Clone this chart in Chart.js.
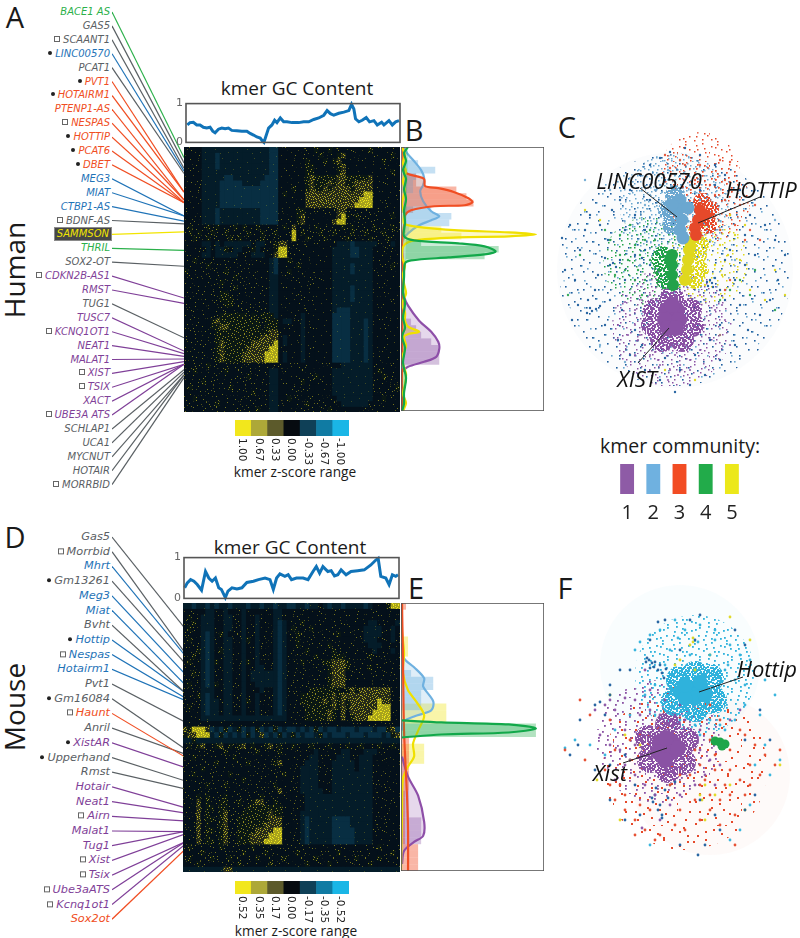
<!DOCTYPE html>
<html><head><meta charset="utf-8">
<style>
html,body{margin:0;padding:0;background:#fff;width:800px;height:938px;overflow:hidden}
#root{position:relative;width:800px;height:938px;overflow:hidden}
canvas{position:absolute;display:block}
.t{position:absolute;white-space:nowrap;line-height:1}
.lab{position:absolute;white-space:nowrap;line-height:1;font-family:"DejaVu Sans";font-style:italic;transform:translateY(-50%)}
.dot{display:inline-block;width:4px;height:4px;border-radius:50%;background:#222;margin-right:3px;vertical-align:2px}
.sq{display:inline-block;width:4px;height:4px;border:1px solid #666;background:#fff;margin-right:3px;vertical-align:1px}
</style>
<script src="https://cdn.jsdelivr.net/npm/chart.js@4"></script>
</head><body><div id="root"></div>
<script>
/* ---------- community colours ---------- */
const GREEN='#2bb04a',GREY='#5a6064',BLUE='#1f73b7',RED='#f04e23',PURPLE='#7f3f98',YELLOW='#f2e500';
const colourOf={g:GREEN,k:GREY,b:BLUE,r:RED,p:PURPLE,y:YELLOW};

/* ---------- panel A / D labels ---------- */
const humanLabels=['BACE1 AS','GAS5','SCAANT1','LINC00570','PCAT1','PVT1','HOTAIRM1','PTENP1-AS','NESPAS','HOTTIP','PCAT6','DBET','MEG3','MIAT','CTBP1-AS','BDNF-AS','SAMMSON','THRIL','SOX2-OT','CDKN2B-AS1','RMST','TUG1','TUSC7','KCNQ1OT1','NEAT1','MALAT1','XIST','TSIX','XACT','UBE3A ATS','SCHLAP1','UCA1','MYCNUT','HOTAIR','MORRBID'];
const humanCommunity='gkkbkrrrrrrrbbbkygkppkppppppppkkkkk'.split('');
const humanMarkList={SCAANT1:'s',LINC00570:'d',PVT1:'d',HOTAIRM1:'d',NESPAS:'s',HOTTIP:'d',PCAT6:'d',DBET:'d','BDNF-AS':'s','CDKN2B-AS1':'s',KCNQ1OT1:'s',XIST:'s',TSIX:'s','UBE3A ATS':'s',MORRBID:'s'};
const humanTargetRow=[.04,.06,.08,.09,.10,.17,.17,.20,.20,.21,.21,.21,.26,.26,.28,.29,.32,.39,.45,.57,.59,.72,.77,.78,.79,.80,.81,.82,.82,.82,.84,.85,.86,.86,.87];

const mouseLabels=['Gas5','Morrbid','Mhrt','Gm13261','Meg3','Miat','Bvht','Hottip','Nespas','Hotairm1','Pvt1','Gm16084','Haunt','Anril','XistAR','Upperhand','Rmst','Hotair','Neat1','Airn','Malat1','Tug1','Xist','Tsix','Ube3aATS','Kcnq1ot1','Sox2ot'];
const mouseComm=['k','k','b','k','b','b','k','b','b','b','k','k','r','k','p','k','k','p','p','p','p','p','p','p','p','p','r'];
const mouseMarkList={Morrbid:'s',Gm13261:'d',Hottip:'d',Nespas:'s',Gm16084:'d',Haunt:'s',XistAR:'d',Upperhand:'d',Airn:'s',Xist:'s',Tsix:'s',Ube3aATS:'s',Kcnq1ot1:'s'};
const mouseTargetRow=[.09,.18,.19,.22,.26,.30,.33,.33,.35,.36,.44,.54,.57,.56,.61,.66,.69,.76,.78,.81,.85,.85,.86,.89,.89,.90,.92];

/* ---------- GC content ---------- */
const humanGcX=[4,12,22,32,42,52,62,72,80,87,97,107,117,127,137,152,167,182,192,202,212,222,229,233,239,247,257,265,272,282,292,302,317,337,352,367,382,397,412,422,432,442,457,472,487,495,502,507,517,527,539,549,562,572,585,592,607,617,627,637];
const humanGcY=[.45,.51,.52,.45,.45,.39,.37,.39,.29,.25,.34,.37,.35,.37,.31,.30,.29,.29,.23,.19,.14,.11,.03,0,.16,.37,.45,.57,.51,.63,.53,.53,.51,.51,.53,.53,.59,.63,.70,.82,.74,.70,.75,.78,.82,.98,.86,.61,.53,.57,.64,.53,.56,.45,.52,.45,.56,.45,.53,.56];
const mouseGcX=[2,10,20,30,40,53,65,75,85,95,105,113,125,133,145,160,175,190,210,225,245,260,270,280,290,305,315,325,340,360,375,390,400,410,420,435,445,455,465,475,490,505,525,545,565,580,587,595,610,620,630,640,647];
const mouseGcY=[.26,.38,.46,.42,.34,.20,.66,.50,.42,.50,.26,.22,.02,.18,.26,.23,.26,.39,.42,.46,.50,.46,.22,.50,.60,.54,.58,.46,.50,.50,.46,.66,.78,.62,.78,.66,.68,.55,.58,.70,.58,.66,.68,.70,.82,.94,.98,.54,.50,.34,.58,.54,.58];

/* ---------- heat maps: one string per row, one letter per cell ---------- */
const humanHeat=[
'.,..bb bbbbbb bbbbbb bBB.,. ...,.o ..o.,. .,...o .,..,.',
'...,bb bBbbbb bbbbbb bBB... ,.,... o.,.oO ,.,... ,...o.',
'.,..bb bBbbbb bbbbbb bBB.., ..,o.. ,o.oO. ...,., ..o...',
'..,.bb bBbbbb bbbbbb bBB... ,..oo. .,..oO ...... ..,..,',
'.,..bb bbbbbb bbbbbb bBB.,. ...oo. ....oO ...... .,..o.',
'...,bb bbbBBb bbbbbb BBB... ,..oOo ooooOO oooooO ,..,..',
'.,.,bb bbBBBB BbbbbB BBB.,. ...oOo ooOoOO ooOOOO ..,...',
'...,bb bbBBBB BBBBBB BBB... o..oOo oOoOOO OoOOOO .,...,',
'.,..bb bbBBBB BBBBBB BBB.o. ...OOO OOOOOO OOOOYY .....,',
'...,bb bbBBBB BBBBBB BBB.,. ,..OOO OOOOOO OOOYYY ..,...',
'.,..bb bbBBBB BBBBBB BBB... ...OOO OOOOOO OOYYYY ...,..',
',...bb bBbbbb bbbbbB BBB,.. .oo,,, ,,,,OO ,,,,,, .,..,.',
'...,bb bBbbbb bbbbbB BBB.,. .oO... .,..OY o,o,,, ,,.,o.',
'.,,.bb bBbbbb bbbbbB BBB,., .oO... ...OYY ,.,,., ,.,..,',
',o,.,o ,o.,,o .o,,o. ,,.,o, O,,.,o ,,.,,o ,o,.,, o,,.o,',
',o.o,, o,,o., ,,o,.o ,,o.,, Y.o,,. o,,o,. ,o.,o, ,.o,,.',
'.,o,.o ,,.,o, o.,,.o ,.,,., Y.,o,. ,o.,., o,,.,o ,,.o,.',
'....bb ,b.bbb bbb,bb ,,oOO. ,,.,., ...,bb bBbbbb b,.,b.',
'...,,b .bbo,b b,,ob, ,.oYY, .,.,., ...bbb bBBbbb .,,.,.',
',...bb .bbbbb .,,bbb .,OYY, ,.,... ...bbb bBBbbb ..,...',
',.o.,. ,..,., ..,.,. .bB,.o .,..,. ,..bbb bbbbbb .,..,.',
'.,.,.o .,.,.. ,.,.., .bB.,. .o.,.. .,.bbb bBbbbb ..,.o.',
'o.,.,. ,.,o.. ,..,.. ,bB..o ..,.., ...bbb bBbbbb ,...,.',
'.,.,., .,.,.o .,.,., .bb.,. ,...,. ,..bbb bbbbbb .,..,.',
',.,.., ,.o.,. ,.,.,. .bb... .,..,. ...bbb bbbbbb ..,...',
'.,.,.. .,,.,o .,.,., ,bb.,. ...,.. ..,bbb bBbbbb .,...,',
',.,.,. ,.oo,. ,.,,., .bb... .,.... ...bbb bBbbbb ..,...',
'.,..,. .,ooo, .,.,., .bb.,. ..,.,. ...bbb bBbbbb .,..,.',
',.,.,. ,.,oo. ,.,.,. .bb... .,.... ..,bbb bbbbbb ..,...',
'.,,... .,,,.. ,,,,,, ,bb.,. ...,.. ...bBB Bbbbbb .,....',
',.,.,. ,,oooo oo,o,o oob... ,.b... ...BBB Bbbbbb ...,..',
'.,.,., oOoooo ooooo, ooo.bb .,b... ...BBB BbbbBb .,....',
',.,.,. ooOOoo ooooo, ooo.., ..b.,. ...BBB BbbbBb ..,...',
'.,,.,, ,ooooo oooooo oOO,.. ..b... ...BBB BbbbBb .,....',
',.,,.. ,ooooo oooooO OOO.b. .,b... ...BBB BbbbBb ...,..',
'.,.,,. ,oOooo oooOOO OOY.b. ..b... ...BBB BbbbBb .,....',
',.,.,. ,oOooo ooOOOO OYY.,. ..b.,. ...BBB BbbbBb ..,...',
'.,,.,, ,oOooo oOOOOO YYY.b. ..b... ...BBB BbbbBb .,....',
',.,.,. ,oOooo oOOOOO YYY.b. ..b... ...BBB BbbbBb ...,..',
',.,,.o ,,.,., ,.,.,. ,.,,., .,.,.. ,.,..b bbbbbb ,.,.,.',
'.,o.,. ,.,o.. ,.,.,. ,bb.,. ..,.,. ...bbb bbbbbb ,o,.,.',
',.,.,. .,.,., ,.o.,. .bb... .,..,o ...bbb bbbbbb .,o.,.',
'.,.,o. ,.,.,. .,.,., ,bb.,. ..o.,. ,..bbb bbbbbb ,.,.,.',
',o.,., .,.,o. ,.,.,. .bb,.. ,.,... ..,bbb bbbbbb .,.,.o',
'.,.,., ,.,.,. .,.o., ,bb.,. .,.,., .,.bbb bbbbbb ,.,.,.',
',.o.,. .,.,., ,.,.,. .bb.,o ,.,.,. ,.,.bb bbbbbb .,o.,.',
'.,.,., ,o.,., .,.,., ,bb,.. .,.o., .,.,.b bbbbb, ,.,.,.',
',.,.,. .,.,., ,.,.o. .bb.,. ,.,.,. ,.o.,. ,.,.,. .,.,.,'];
const mouseHeat=[
'bbBbbB bBbbBb bbBbbB bbBbbB BbbBbb ,bBbbB bbbbBb ...oYY',
'.,,..b b.,b.. ,b.,.. ,.bb.. ,.,... ,..,.. ..,... ,..,..',
'.o.,bb b,.bb, .b,.b, .,bb,. .,..,. .,.,.. ,.,.,. .,...,',
',.o.bb b.,bb. ,b..b. ,.bBb. ,.o... ,..,., ..,..b b.,..b',
'.o,.bb b,.bb, .b,,b. .,bBb. o,.,o. .,.,.. ,.,.bb bb.,b.',
',,.,bB b.ob., ,b.,b, ,.bBb, .o,.,. ,..,o. .,.,bb bb,.b.',
'.o,.bB b,.bb. ,bo.b. .,bBb. ,o..,. .,.,.. ,.,.bb b.,.b,',
',.,,bB b.,bb, .b.,b, ,.bBb. .o,.,. ,.o.,. .,.,.b bb.,..',
'.,.obB b,obb. ,b,.b. .,bBb. ,.,o.. .,.o,. ,.,.,. b.,.b.',
',.o.bB b.,bb, .b.,b, ,.bBb, .,.,.o .,.ooo ,.,.,o ,.,..,',
'.o.,bB bo.bb. ,bo.b. .,bBb. ,.o.,. ,ooOOO o,.,.. .,.,..',
',.,.bB b.,bb, .b.,bb ,.bBb. .,.,., .,oOOO o.,,.o .,..,.',
'.,o,bB b,.bb. ,b.bbb bbbBb, ,.,,.. ,.oOOO .,.,.. ,.,.,.',
',.,.bB b.,bb. .b.bbb bbbBb. .,,.., .,oOOO ,.,... ,...,.',
'.o.,bB bo,bb, ,b,.bb bbbBb. ,.,,., ,.oOOO ...... ,.,...',
',.,.bb b.,bb. .b.,.b ,.bBb, .,.,oo ooooo, oOoOOO OOOO,.',
'.,.obB b,.bb, ,b,.b. .,bBb. ,.oooo oooOoO OOOOOO OOOO..',
',.,,bB bb,bb. .bo.b, ,.bBb. .,oooo oOoOoO oOOOOO OYOO,.',
'.o.,bB bb.bb, ,b.,b. .,bBb. ,.,ooo oooOoO oOOOOO OYYY..',
',.,.bB bb,bb. .b,.b, ,.bBb, .,.ooo ooOo.O .OOOOO YYYY,.',
'.,.,bb bbbbbb bbbbbb bbbbb. ,.,ooo ooOo.O .oOOOY YYYY..',
'.,.,., ,.,.,. .,.,., ,.,.,. .,.,.. ,.,.,. .,.,., ,.,.,.',
'OoYYYO BbBoBb oBbBoB bBoBbB BbBbBo BbBBbB BBbBBB bBBoOB',
'oOOYYY bBoBbB bBoBbO BbBoBb oBbBBb oBbBBB bBBBbB BBbBoO',
'bbobbb bbbbbb bbbbbb bbbbbb bbbbbb bbbbbb bbbbbb bbbbbb',
',o,oO, ,oO,o, oO,o,, oO,o,, o,,,o, ,,o,,, o,,o,, ,o,,o,',
'.,.,., ,.,o.. ,.,.o. ,.,o,. .,.,.b .,.,.b b.,.bb b.,..,',
',.o.,. .,.,.o .,.,.. .,.,.. ,.,.bb ,.,.bb b,.bbb .,.,..',
'.,.,., ,o.,., ,.o.,. ,.oO.. .,.bbb .,.bbb bb.bbb ,.,...',
',.,.o. .,.,.. .,.,., .,.,.. ,.bbbb ,.,bbb bb.bbb .,.,..',
'.,o.,. ,.,.o. ,.,.,. ,.,.o. .,bbbb .,.bbb bbbbbb ,.,...',
',.,.,. .,.,., .o.,., .,.,.. ,.bbbb ,.,bbb bbbbbb .,..,.',
'.,.,.o ,.,o.. ,.,.,. ,.o.,. .,bbbb .,.bbb bbbbbb ,.,...',
',.,,., .,.,., .,.,., .,.O., ,.bbbb b,.bbb bbbbbb .,.,..',
'.,.o.o ,.,o., ,.,.,o ,.,.,. .,.bbb bbbbbb bbbbbb ,.,...',
',.,O.o .,oo., o.,oOO ,.o.,. ,.,bbb bbbbbb bbbbbb .,..,.',
'.,.O,o o,oo,, ,,oooo oooo,. .,.bbb bbbbbb bbbbbb ,.,...',
',.,O.o .,oO,, ,ooooo oOoo,. ,.bbbb bbbbbb bbbbbb .,.,..',
'.,.O,o o,oO,, oooooo oOOO.. .,bBbb bbbBBB Bbbbbb ,.,...',
',.,O.o .,oO,, oooooo OOOO,. ,.bBbb bbbBBB Bbbbbb .,.,..',
'.,.O,o o,oO,, ooooOO OOYY.. .,bBbb bbbBBB BBbbbb ,.,...',
',.,O.o .,oO,, oooOOO OYYY,. ,.bBbb bbbBBB BBbbbb .,..,.',
'.,.O,o o,oO,, oooOOO YYYY.. .,bBbb bbbBBB BBbbbb ,.,...',
',o,.,. ,.o,., ,.,o., .,.,., ,.,.,. .,.,., ,.,.,. ,o.,.,',
'.,.,o, .,.,., .o.,., o.,.,. .o.,.. ,.,.o. .,.,., .,.,o.',
',o.,., o,.,o. ,.,.o, .,.,o. ,.,.,o .,.,.. ,.o.,. ,o.,.,',
'.,.o,. ,.,.,. o.,.,. ,o.,., .,.o., ,.o.,. .,.,.o .,.,.,',
'bbbbbb bbbOOb bbbbbb bbbbbb bbbbbb bbbbbb bbbbbb bbbbbb'];

/* ---------- colour bars ---------- */
const humanRange=['1.00','0.67','0.33','0.00','-0.33','-0.67','-1.00'];
const mouseRange=['0.52','0.35','0.17','0.00','-0.17','-0.35','-0.52'];
const rangeColours=['#f2e71c','#ada838','#5c5a2b','#060b10','#0f4057','#107ba3','#1ab6e6'];

/* ---------- density curves: x,y pairs ---------- */
const humanKdeRed=[2,0,3,23,7,27,15,29,23,32,24,39,37,41,53,45,67,51,71,55,63,58,33,59,10,63,4,68,3,79,1,96,2,123,1,216,3,219,1,224,1,263];
const humanKdeBlue=[3,0,6,6,12,13,20,23,23,31,22,38,19,44,22,54,30,64,38,69,30,73,18,78,7,86,3,91,1,96,1,123,1,263];
const humanKdeYellow=[1,0,4,8,2,16,5,24,2,34,4,44,1,56,3,66,3,76,13,79,57,83,107,85,134,87,107,89,57,90,13,93,3,98,1,109,4,118,2,127,3,136,5,146,1,156,4,165,4,173,7,179,18,184,8,186,3,189,5,198,2,207,2,216,5,226,4,236,2,246,5,255,2,263];
const humanKdeGreen=[7,0,3,6,5,14,2,23,5,32,3,42,5,52,3,63,4,75,3,89,13,93,57,96,83,99,94,104,83,107,47,110,10,113,4,116,3,130,2,145,4,156,2,170,4,180,1,189,4,200,2,215,5,230,3,245,3,256,1,263];
const humanKdePurple=[1,136,3,149,7,158,18,173,30,184,37,194,38,201,35,209,23,214,7,219,1,224];
const mouseKdeRed=[1,0,2,60,3,127,6,193,7,227,7,267];
const mouseKdeYellow=[1,0,1,27,3,50,2,70,7,87,15,98,23,112,18,125,12,140,13,153,7,163,2,175,1,210,0,267];
const mouseKdeBlue=[1,40,3,55,13,64,23,75,22,83,32,98,30,107,13,113,3,118,1,127];
const mouseKdeGreen=[1,117,40,119,107,121,134,125,107,129,40,131,1,134];
const mouseKdePurple=[1,153,7,173,17,192,23,218,22,232,13,238,3,247,1,260];

/* ---------- histograms: 40 bins from top to bottom ---------- */
const binNames=['0','1','2','3','4','5','6','7','8','9','10','11','12','13','14','15','16','17','18','19','20','21','22','23','24','25','26','27','28','29','30','31','32','33','34','35','36','37','38','39'];
const humanHistBlue=[0,0,17,34,15,12,12,0,0,30,50,48,8,0,0,0,0,0,0,0,0,0,0,0,0,0,0,0,0,0,0,0,0,0,0,0,0,0,0,0];
const humanHistRed=[0,0,0,0,15,15,55,65,72,12,0,0,0,0,0,0,0,0,0,0,0,0,0,0,0,0,0,0,0,0,0,0,0,0,0,0,0,0,0,0];
const humanHistYellow=[0,0,0,0,0,0,0,0,0,0,0,0,40,60,0,0,0,0,0,0,0,0,0,0,0,0,0,0,0,0,0,0,0,0,0,0,0,0,0,0];
const humanHistGreen=[0,0,0,0,0,0,0,0,0,0,0,0,0,0,20,97,83,5,0,0,0,0,0,0,0,0,0,0,0,0,0,0,0,0,0,0,0,0,0,0];
const humanHistPurple=[0,0,0,0,0,0,0,0,0,0,0,0,0,0,0,0,0,0,0,0,0,0,0,0,5,5,10,15,20,30,37,38,38,0,0,0,0,0,0,0];
const mouseHistBlue=[0,0,0,0,0,0,0,0,0,0,10,32,32,20,20,20,0,0,0,0,0,0,0,0,0,0,0,0,0,0,0,0,0,0,0,0,0,0,0,0];
const mouseHistYellow=[0,0,0,0,0,7,7,7,0,0,0,0,0,0,0,45,45,45,0,0,0,23,23,23,0,0,0,0,0,0,0,0,0,0,0,0,0,0,0,0];
const mouseHistGreen=[0,0,0,0,0,0,0,0,0,0,0,0,0,0,0,0,0,0,134,134,0,0,0,0,0,0,0,0,0,0,0,0,0,0,0,0,0,0,0,0];
const mouseHistRed=[5,0,0,0,0,0,0,0,0,0,0,0,0,0,0,0,0,0,0,0,8,8,8,8,8,8,8,8,4,4,4,4,4,4,4,4,17,17,17,17];
const mouseHistPurple=[0,0,0,0,0,0,0,0,0,0,0,0,0,0,0,0,0,0,0,0,0,0,0,0,0,0,0,0,8,8,8,8,20,20,20,20,0,0,0,0];

/* ---------- network C ---------- */
const cScatterDark=[12,108,20,95,15,140,25,150,30,120,35,100,40,85,28,175,22,190,38,170,45,160,48,145,55,128,60,135,63,133,66,137,70,130,58,110,50,95,62,80,70,70,80,60,90,45,100,35,110,28,120,22,135,18,150,25,165,35,175,45,190,60,200,85,215,95,225,110,235,125,228,150,220,170,210,185,198,200,185,215,170,230,155,245,140,255,125,262,110,250,95,240,80,225,68,210,55,195,40,178,37,183,42,181,46,179,50,176,60,170,72,180,85,200,92,215,75,150,85,125,95,120,92,128,100,135,180,120,175,130,160,150,162,153,158,156,165,148,157,152,163,157,170,160,185,150,195,135,205,125,190,175,170,195,160,210,145,225,130,240,115,228,100,70,85,85,75,100,195,105,150,60,165,55,115,50,95,100,175,170];
const cScatterLight=[118,40,125,45,135,50,140,55,110,55,105,60,100,65,95,75,150,45,112,62,145,62,108,72,115,75,150,70,35,50,60,60,205,60,225,90,90,135,100,150,155,170,185,130,50,215,75,232];
const cScatterPurple=[75,172,80,185,85,195,90,205,95,215,100,225,110,235,120,240,130,235,140,230,150,220,160,210,170,205,175,190,165,180,155,170,150,165,85,180,92,170,100,165,96,190,88,210,105,222,115,215,125,225,135,215,145,205,155,195,160,185,108,230,128,245,78,205,68,195,118,250,85,225,140,240,180,215,172,175];
const cScatterGreen=[60,110,70,105,80,95,85,115,90,125,95,110,100,130,88,140,78,130,70,125,65,145,75,140,95,150,100,100,105,110,85,150,92,165,180,160,190,150,200,165,170,170,225,180,205,140,30,125,18,165,55,100];
const cScatterYellow=[160,110,170,115,178,125,165,135,172,145,155,155,185,105,190,130,200,160,235,165,225,140,35,80,50,90,115,240,145,250,170,205,195,95,180,85,215,170];
const cScatterRed=[165,65,175,70,180,85,170,100,185,95,195,110,160,55,145,50,130,30,115,25,120,38,135,35,175,50,180,32,170,30,200,100,190,75,210,110,180,150,175,160,205,75,150,35];
const cCorePurple=[117,180,127,180,115,190,129,190,118,198,126,198,122,175];
const cMidPurple=[105,180,140,180,103,195,142,195,112,210,132,210,122,168];
const cWidePurple=[122,197];
const cCoreGreen=[122,125,122,135,122,145,123,155,120,130];
const cMidGreen=[112,125,113,140,110,130,115,150];
const cWideGreen=[98,132];
const cCoreYellow=[139,120,138,130,137,140,135,150,140,112];
const cMidYellow=[148,125,150,140,145,150,150,115];
const cWideYellow=[158,132];
const cCoreRed=[150,80,148,90,145,98,155,85,146,105];
const cMidRed=[160,80,152,72,158,95];
const cWideRed=[160,72,150,42];
const cCoreBlue=[130,70,128,80,132,90,130,100,133,108,122,75,138,78];
const cMidBlue=[125,65,118,80,122,95];
const cWideBlue=[125,78];
const cWideDark=[125,140];
const cHaze=[125,140];
const cPointers=[[90,58,127,87],[210,67,148,93],[119,198,88,233]];

/* ---------- network F ---------- */
const fCoreCyan=[130,122,140,118,150,120,145,128,135,128,155,125,150,112,135,115];
const fMidCyan=[130,110,160,108,125,132,163,130,145,138,145,105];
const fWideCyan=[145,105];
const fScatterCyan=[110,60,125,50,135,60,150,55,165,70,180,75,190,85,200,90,215,110,225,125,210,145,195,135,185,150,175,160,160,150,145,155,130,150,115,140,105,115,95,125,115,95,120,80,140,85,160,85,175,100,185,110,195,115,80,145,65,160,55,185,40,175,25,170,15,178,100,65,90,72,85,80,205,195,230,190,215,175,220,205,200,235,190,260,180,270,100,275,105,145,150,165,170,155,148,72,128,68,165,60,178,95];
const fCorePurple=[110,172,122,172,108,182,122,182,115,190,128,178,116,168];
const fMidPurple=[98,168,136,170,100,190,133,192,118,200,118,155];
const fWidePurple=[108,172];
const fScatterPurple=[60,130,65,140,55,135,75,128,85,130,90,145,100,140,110,145,125,145,135,150,150,160,160,190,170,195,155,205,145,215,130,225,120,235,105,225,95,215,85,205,75,195,70,180,60,175,50,165,45,140,75,160,85,175,140,195,150,180,165,215,175,175,190,140,110,250,92,258,80,190,65,210,180,150,130,135,95,100,100,120,115,130];
const fScatterRed=[30,130,40,145,15,180,35,190,55,200,60,215,65,230,75,240,85,250,95,260,110,265,125,255,135,260,150,250,160,240,170,255,185,245,130,240,145,230,160,225,175,215,190,210,200,195,215,185,225,195,205,175,195,165,180,180,165,185,150,195,145,180,160,170,170,150,190,160,65,180,80,170,60,150,70,215,90,235,100,240,120,215,140,205,155,210,170,230,180,225,195,225,180,200,200,215,210,205,230,180,75,225,85,265,130,205,150,215,165,200,135,130,160,135,105,270,185,275];
const fWideRed=[135,198];
const fScatterDark=[45,135,50,132,55,145,60,125,30,150,28,175,20,185,45,200,60,230,75,250,90,245,130,275,148,285,155,275,170,260,195,240,205,225,220,170,195,170,210,140,185,60,195,75,150,45,115,50,108,52,145,70,140,50,130,80,80,100,70,100,60,115,100,70,75,185,60,195,85,215,150,230,165,245,97,88,99,90,102,93,104,97,108,100,112,103,116,99,100,98,96,92,105,92,110,95,114,108,105,225,103,232,108,240,112,245,110,235,115,220,120,215,125,212,102,228,106,218,118,228,112,248];
const fScatterYellow=[180,47,143,68,143,72,140,75,130,90,125,95,160,85,155,250,150,225,152,230,155,215,165,225,180,215,195,240,70,250,60,125,230,195,200,70,47,210,90,175,80,190,145,100,75,165];
const fCoreGreen=[165,171,170,172,175,174,172,176];
const fHazeRed=[160,205];
const fHazeCyan=[130,95];
const fPointers=[[193,107,149,122],[73,193,117,178]];

/* ---------- community legend ---------- */
const communityNames=['1','2','3','4','5'];
const communityColours=['#8e5ba6','#6fb1e0','#f24c23','#22ab4a','#ece81a'];
const communityValues=[1,1,1,1,1];

/* ---------- style: grain texture for dense speckled fills ---------- */
const grain=[3,2,11,5,6,12,14,13,1,8,9,0,12,9,4,6,7,3,15,1,2,14,10,11,5,9,13,4,0,11,8,15,2,5,14,8,6,1,10,3,4,13,12,15,8,7,0,3,15,10,3,10,11,12,7,9,13,0,1,1,5,15,9,5,0,6,6,4,10,8,14,3,3,0,8,11,13,11,1,13,5,2,11,14,15,6,7,14,2,9,12,2,9,13,4,11,8,1,14,15,0,15,6,7,11,0,3,7,13,7,9,9,5,5,15,12,1,4,10,6,7,12,12,12,2,1,4,15];
function texture(base,k,speck,shift,scale,dot){
  const S=32*scale,c=document.createElement('canvas');c.width=S;c.height=S;
  const x=c.getContext('2d');
  if(base){x.fillStyle=base;x.fillRect(0,0,S,S);}
  x.fillStyle=speck;
  for(let i=0;i<k;i++){
    const a=grain[2*i],b=grain[2*i+1];
    [[a,b],[16+b,a],[15-a,16+b],[16+b,31-a]].forEach(p=>{
      x.fillRect((p[0]*scale+shift)%S,(p[1]*scale+shift*3)%S,dot,dot);
    });
  }
  return x.createPattern(c,'repeat');
}
const heatLevels={
 '.':texture('#04101a',5,'#4a4a18',0,1,1),
 ',':texture('#04101a',14,'#77751c',5,1,1),
 'o':texture('#0a1714',26,'#8f8a1e',9,1,1),
 'O':texture('#24291a',50,'#b0aa1f',2,1,1),
 'Y':texture('#a8a31d',50,'#f2e91c',6,1,1),
 'b':texture('#041c29',4,'#3d4a24',3,1,1),
 'B':texture('#082e42',2,'#3d5a3a',7,1,1)
};

/* ---------- helpers ---------- */
const root=document.getElementById('root');
const pairs=a=>{const o=[];for(let i=0;i<a.length;i+=2)o.push({x:a[i],y:a[i+1]});return o;};
const OPEN='"Open Sans"';
Chart.defaults.font.family='"DejaVu Sans"';
function mk(left,top,w,h,cfg,bg){
  const c=document.createElement('canvas');
  c.width=w;c.height=h;c.style.left=left+'px';c.style.top=top+'px';c.style.width=w+'px';c.style.height=h+'px';
  if(bg)c.style.background=bg;
  root.appendChild(c);
  cfg.options=Object.assign({responsive:false,animation:false,events:[],maintainAspectRatio:false,layout:{padding:0,autoPadding:false}},cfg.options||{});
  cfg.options.plugins=Object.assign({legend:{display:false},tooltip:{enabled:false},title:{display:false}},cfg.options.plugins||{});
  return new Chart(c,cfg);
}
function txt(s,x,y,o){
  o=o||{};
  const e=document.createElement('div');e.className='t';e.textContent=s;
  e.style.left=x+'px';e.style.top=y+'px';
  e.style.fontFamily=o.family||OPEN;e.style.fontSize=(o.size||14)+'px';e.style.color=o.color||'#1a1a1a';
  if(o.italic)e.style.fontStyle='italic';
  e.style.transform='translate(-50%,-50%)'+(o.rot?' rotate('+o.rot+'deg)':'');
  root.appendChild(e);return e;
}
const frame={id:'frame',afterDraw(ch){const a=ch.chartArea,x=ch.ctx;x.save();x.strokeStyle='#555';x.lineWidth=1.6;x.strokeRect(a.left,a.top,a.right-a.left,a.bottom-a.top);x.restore();}};
const hidden=(o)=>Object.assign({display:false},o);

function labels(list,comm,marks,top,step,size,targets,hTop,hH,cvTop,cvH){
  list.forEach((n,i)=>{
    const e=document.createElement('div');e.className='lab';
    const isS=n==='SAMMSON';
    e.style.right=(800-(isS?111:110))+'px';e.style.top=(top+i*step)+'px';e.style.fontSize=size+'px';
    e.style.color=colourOf[comm[i]];
    if(marks[n]){const m=document.createElement('span');m.className=marks[n]==='s'?'sq':'dot';e.appendChild(m);}
    e.appendChild(document.createTextNode(n));
    if(isS){e.style.background='#464646';e.style.outline='1px solid #8a8a8a';e.style.padding='1px 2px 1px 2px';e.style.color=YELLOW;}
    root.appendChild(e);
  });
  mk(112,cvTop,72,cvH,{type:'scatter',data:{datasets:list.map((n,i)=>({
    data:[{x:0,y:top+i*step},{x:1,y:hTop+targets[i]*hH}],showLine:true,borderColor:colourOf[comm[i]],borderWidth:1.2,pointRadius:0
  }))},options:{scales:{x:hidden({min:0,max:1}),y:hidden({min:cvTop,max:cvTop+cvH,reverse:true})}}});
}
function heat(rows,left,top,w,h){
  const grid=rows.map(r=>r.replace(/ /g,'').split(''));
  const cols=grid[0].map((_,i)=>String(i));
  mk(left,top,w,h,{type:'bar',data:{labels:cols,datasets:grid.map(r=>({
    data:r.map(()=>1),backgroundColor:r.map(c=>heatLevels[c]),borderWidth:0,barPercentage:1,categoryPercentage:1
  }))},options:{scales:{x:hidden({stacked:true}),y:hidden({stacked:true,min:0,max:grid.length,reverse:true})}}},'#04101a');
}
function gc(xs,ys,left,top,w,h){
  const pad=9;
  mk(left-18,top-pad,w+18+3,h+2*pad,{type:'scatter',data:{datasets:[{
    data:xs.map((x,i)=>({x,y:ys[i]})),showLine:true,borderColor:'#1073b8',borderWidth:3,pointRadius:0,tension:0,clip:false
  }]},plugins:[frame],options:{layout:{padding:{top:pad,bottom:pad,right:3},autoPadding:false},scales:{
    x:hidden({min:0,max:Math.max(...xs)+3}),
    y:{min:0,max:1,afterFit:s=>{s.width=18;},grid:{display:false,drawTicks:false},border:{display:false},
       ticks:{stepSize:1,padding:3,color:'#666',font:{size:11,family:'"DejaVu Sans"'}}}
  }}});
}
function range(names,left,top,w,h,labelTop){
  const ch=mk(left,top,w,h,{type:'bar',data:{labels:names,datasets:[{data:names.map(()=>1),backgroundColor:rangeColours,borderWidth:0,barPercentage:1,categoryPercentage:1}]},
    options:{scales:{x:hidden({}),y:hidden({min:0,max:1})}}});
  names.forEach((n,i)=>{
    const e=document.createElement('div');e.className='t';e.textContent=n;
    e.style.writingMode='vertical-rl';e.style.fontFamily='"DejaVu Sans"';e.style.fontSize='10.5px';e.style.color='#222';
    e.style.top=labelTop+'px';e.style.left=(left+ch.scales.x.getPixelForValue(i))+'px';e.style.transform='translateX(-50%)';
    root.appendChild(e);
  });
}
const rgba=(h,a)=>{const n=parseInt(h.slice(1),16);return `rgba(${n>>16},${(n>>8)&255},${n&255},${a})`;};
function dens(hist,kde,left,top,w,h,yMax){
  mk(left,top,w,h,{type:'bar',data:{labels:binNames,datasets:hist.map(([d,c,a])=>({data:d,backgroundColor:rgba(c,a),borderWidth:0,inflateAmount:0,barPercentage:1,categoryPercentage:1,grouped:false}))},
    options:{indexAxis:'y',scales:{x:hidden({min:0,max:142}),y:hidden({})}}});
  mk(left,top,w,h,{type:'scatter',data:{datasets:kde.map(([d,c,f])=>({data:pairs(d),showLine:true,borderColor:c,borderWidth:2.2,pointRadius:0,tension:.3,fill:f?'shape':false,backgroundColor:rgba(c,.22),clip:false}))},
    plugins:[frame],options:{scales:{x:hidden({min:0,max:142}),y:hidden({min:0,max:yMax,reverse:true})}}});
}
/* layer: [points, colour, radius, alpha] solid, or [points, colour, radius, 0, density, grainScale, dotSize] speckled */
function net(layers,pointers,top){
  const ds=[];
  (pointers||[]).forEach(p=>ds.push({data:[{x:p[0],y:p[1]},{x:p[2],y:p[3]}],showLine:true,borderColor:'#222',borderWidth:1,pointRadius:0,order:0}));
  layers.forEach((l,i)=>{
    const shift=(l[1].charCodeAt(2)+l[1].charCodeAt(4))%32;
    const fill=l[4]?texture(null,l[4],l[1],shift,l[5]||1,l[6]||2):rgba(l[1],l[3]);
    ds.push({data:pairs(l[0]),pointRadius:l[2],pointBackgroundColor:fill,pointBorderWidth:0,order:1+i});
  });
  mk(550,top,250,300,{type:'scatter',data:{datasets:ds},options:{scales:{x:hidden({min:0,max:250}),y:hidden({min:0,max:300,reverse:true})}}});
}

/* ---------- panel letters and side titles ---------- */
[['A',15,16],['B',414,129],['C',567,126],['D',15,536],['E',416,587],['F',565,587]].forEach(a=>txt(a[0],a[1],a[2],{size:29}));
txt('Human',14,270,{size:28,rot:-90});
txt('Mouse',14,707,{size:28,rot:-90});
txt('kmer GC Content',297,88,{size:19});
txt('kmer GC Content',290,547,{size:19});
txt('kmer z-score range',295,472,{size:13.7});
txt('kmer z-score range',296,931,{size:13.7});
txt('kmer community:',680,446,{size:19.5});

/* ---------- A / B ---------- */
labels(humanLabels,humanCommunity,humanMarkList,12,13.9,10,humanTargetRow,147,265,0,500);
gc(humanGcX,humanGcY,186,103,214,40);
heat(humanHeat,184,147,216,265);
dens([[humanHistBlue,'#6fb1e0',.4],[humanHistRed,'#f0502a',.42],[humanHistYellow,'#f0e61e',.35],[humanHistGreen,'#22ab4a',.35],[humanHistPurple,'#8e5ba6',.38]],
     [[humanKdeGreen,'#12a84a',true],[humanKdeYellow,'#f0e000',true],[humanKdeRed,'#f04e23',true],[humanKdeBlue,'#6fb1e0',true],[humanKdePurple,'#8e4fa8',true]],401,147,143,264,263);
range(humanRange,235,420,114,16,438);

/* ---------- D / E ---------- */
labels(mouseLabels,mouseComm,mouseMarkList,537,14.7,11.3,mouseTargetRow,603,269,520,418);
gc(mouseGcX,mouseGcY,184,557,215,42);
heat(mouseHeat,183,603,217,269);
dens([[mouseHistRed,'#f0502a',.42],[mouseHistBlue,'#6fb1e0',.4],[mouseHistYellow,'#f0e61e',.38],[mouseHistGreen,'#22ab4a',.35],[mouseHistPurple,'#8e5ba6',.35]],
     [[mouseKdeGreen,'#12a84a',true],[mouseKdeRed,'#f04e23',false],[mouseKdeYellow,'#f0e000',false],[mouseKdeBlue,'#6fb1e0',true],[mouseKdePurple,'#8e4fa8',true]],401,603,143,268,267);
range(mouseRange,235,881,114,13,896);

/* ---------- C ---------- */
const P='#8a52a4',G='#22a24a',Y='#dfd81e',R='#e6492a',L='#6ba7d0',D='#1f5f9e';
net([
 [cCoreRed,R,6,1],[cCoreBlue,L,6.5,1],[cCoreYellow,Y,6,1],[cCoreGreen,G,6,1],[cCorePurple,P,8,1],
 [cScatterDark,D,1.2,.95],[cScatterLight,L,1.2,.9],[cScatterPurple,P,1.1,.9],[cScatterGreen,G,1.2,.9],[cScatterYellow,Y,1.2,.95],[cScatterRed,R,1.2,.9],
 [cMidRed,R,9,0,50,1,2],[cMidBlue,L,10,0,56,1,2],[cMidYellow,Y,9,0,44,1,2],[cMidGreen,G,9,0,44,1,2],[cMidPurple,P,12,0,50,1,2],
 [cWidePurple,P,60,0,9,1,1.5],[cWideGreen,G,45,0,8,1,1.5],[cWideYellow,Y,42,0,7,1,1.5],[cWideRed,R,40,0,8,1,1.5],[cWideBlue,L,55,0,12,1,1.5],
 [cWideDark,D,116,0,28,3,1.6],[cWideDark,L,112,0,16,3,1.6],
 [cHaze,'#a8c8e0',118,.05]
],cPointers,130);
[['LINC00570',649,180],['HOTTIP',761,189],['XIST',637,378]].forEach(a=>txt(a[0],a[1],a[2],{size:22,italic:true,color:'#111'}));

/* ---------- F ---------- */
const C='#2fb2dc';
net([
 [fCoreGreen,'#1ea64a',4.5,1],[fCoreCyan,C,7.5,1],[fCorePurple,P,8,1],
 [fScatterRed,R,1.4,.95],[fScatterPurple,P,1.4,.95],[fScatterCyan,C,1.4,.95],[fScatterDark,D,1.4,.95],[fScatterYellow,Y,1.4,.95],
 [fMidCyan,C,14,0,54,1,2],[fMidPurple,P,13,0,54,1,2],
 [fWideCyan,C,60,0,8,1,1.8],[fWidePurple,P,62,0,6,1,1.8],[fWideRed,R,82,0,12,2,2],
 [fHazeRed,'#f09a80',80,.05],[fHazeCyan,'#8ecfe8',80,.05]
],fPointers,570);
[['Hottip',767,668],['Xist',610,772]].forEach(a=>txt(a[0],a[1],a[2],{size:22,italic:true,color:'#111'}));

/* ---------- community legend ---------- */
mk(614,464,131,62,{type:'bar',data:{labels:communityNames,datasets:[{data:communityValues,backgroundColor:communityColours,borderWidth:0,barPercentage:.53,categoryPercentage:1}]},
 options:{scales:{x:{afterFit:s=>{s.height=32;},grid:{display:false,drawTicks:false},border:{display:false},ticks:{padding:7,color:'#222',font:{size:20,family:OPEN}}},y:hidden({min:0,max:1})}}});
</script>
</body></html>
